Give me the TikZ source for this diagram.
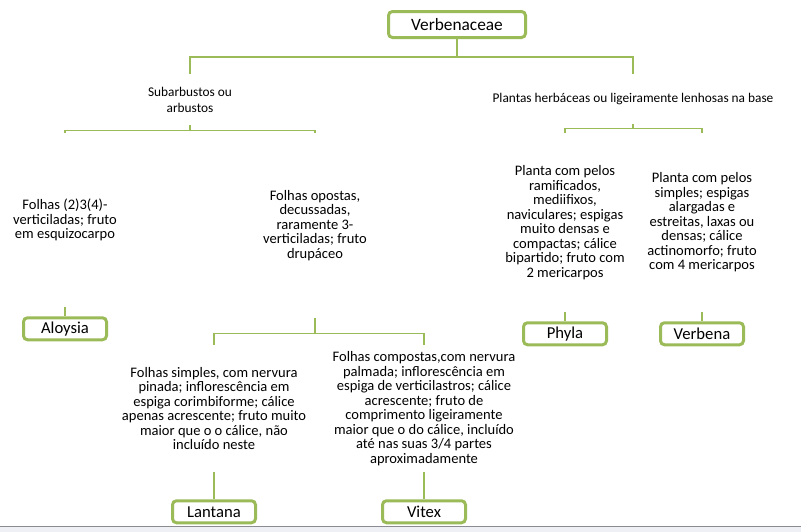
\documentclass[tikz,border=0pt]{standalone}
\usepackage{fontspec}
\setmainfont{Carlito}
\usetikzlibrary{positioning}
\definecolor{smartgreen}{HTML}{9BBB59}
\definecolor{barfill}{HTML}{EEF0F5}
\definecolor{barline}{HTML}{8A8C91}

\begin{document}
\begin{tikzpicture}[x=0.75pt,y=-0.75pt]
    \tikzset{taxon/.style= {draw=smartgreen, line width=2.25pt, rounded corners=3pt, fill=white, minimum width=62.25pt, minimum height=16.5pt, inner sep=0pt, font={\fontsize{12.5}{14}\selectfont}} }
    \tikzset{key/.style= {align=center, inner sep=0pt, font={\fontsize{10.9}{10.9}\selectfont}} }
    \tikzset{group/.style= {align=center, inner sep=0pt, font={\fontsize{10}{12}\selectfont}} }
    \tikzset{link/.style= {draw=smartgreen, line width=0.9pt} }

    \useasboundingbox (0,0) rectangle (801,532);
    \fill[barfill] (0,527) rectangle (801,532);
    \draw[barline, line width=0.75pt] (0,526.5) -- (801,526.5);

    \node[taxon, minimum width=102.75pt, minimum height=19.5pt, font={\fontsize{13}{15}\selectfont}] (fam) at (457,24.5) {Verbenaceae};

    \node[group, minimum height=38.25pt] (shrub) at (190,99.5) {Subarbustos ou\\arbustos};
    \node[group, minimum height=37.5pt] (herb) at (633,99) {Plantas herbáceas ou ligeiramente lenhosas na base};

    \node[key, minimum height=130.5pt] (alo-key) at (65,220) {Folhas (2)3(4)-\\verticiladas; fruto\\em esquizocarpo};
    \node[key, minimum height=138.75pt] (opo-key) at (315,225.5) {Folhas opostas,\\decussadas,\\raramente 3-\\verticiladas; fruto\\drupáceo};
    \node[key, minimum height=134.25pt] (phy-key) at (565,222.5) {Planta com pelos\\ramificados,\\mediifixos,\\naviculares; espigas\\muito densas e\\compactas; cálice\\bipartido; fruto com\\2 mericarpos};
    \node[key, minimum height=134.25pt] (ver-key) at (702,222.5) {Planta com pelos\\simples; espigas\\alargadas e\\estreitas, laxas ou\\densas; cálice\\actinomorfo; fruto\\com 4 mericarpos};
    \node[key, minimum height=95.25pt] (lan-key) at (214,408.5) {Folhas simples, com nervura\\pinada; inflorescência em\\espiga corimbiforme; cálice\\apenas acrescente; fruto muito\\maior que o o cálice, não\\incluído neste};
    \node[key, minimum height=95.25pt] (vit-key) at (424,408.5) {Folhas compostas,com nervura\\palmada; inflorescência em\\espiga de verticilastros; cálice\\acrescente; fruto de\\comprimento  ligeiramente\\maior que o do cálice, incluído\\até nas suas 3/4 partes\\aproximadamente};

    \node[taxon] (aloysia) [below=6.75pt of alo-key] {Aloysia};
    \node[taxon] (phyla) [below=6.75pt of phy-key] {Phyla};
    \node[taxon] (verbena) [below=6.75pt of ver-key] {Verbena};
    \node[taxon] (lantana) [below=20.25pt of lan-key] {Lantana};
    \node[taxon] (vitex) [below=20.25pt of vit-key] {Vitex};

    \path[link] (fam.south) -- ++(0,18) -| (shrub.north);
    \path[link] (fam.south) -- ++(0,18) -| (herb.north);
    \path[link] (shrub.south) -- ++(0,5) -| (alo-key.north);
    \path[link] (shrub.south) -- ++(0,5) -| (opo-key.north);
    \path[link] (herb.south) -- ++(0,4) -| (phy-key.north);
    \path[link] (herb.south) -- ++(0,4) -| (ver-key.north);
    \path[link] (opo-key.south) -- ++(0,15) -| (lan-key.north);
    \path[link] (opo-key.south) -- ++(0,15) -| (vit-key.north);

    \path[link] (alo-key.south) -- (aloysia.north);
    \path[link] (phy-key.south) -- (phyla.north);
    \path[link] (ver-key.south) -- (verbena.north);
    \path[link] (lan-key.south) -- (lantana.north);
    \path[link] (vit-key.south) -- (vitex.north);
\end{tikzpicture}
\end{document}
